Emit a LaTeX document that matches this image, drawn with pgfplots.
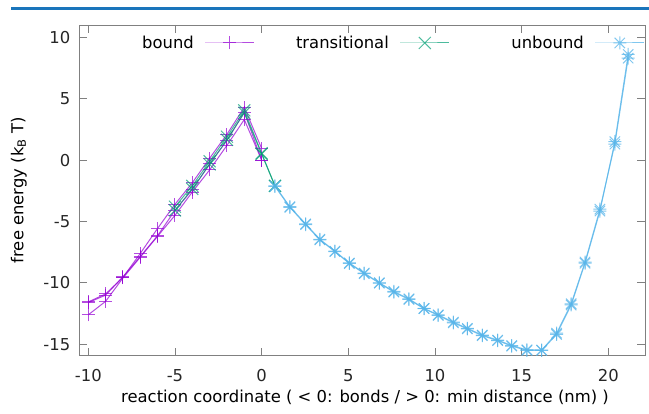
\documentclass[border=0pt]{standalone}
\usepackage{fontspec}
\setmainfont{DejaVu Sans}
\usepackage{pgfplots}
\pgfplotsset{compat=1.18}
\definecolor{cpurple}{HTML}{9400D3}
\definecolor{cgreen}{HTML}{009E73}
\definecolor{cblue}{HTML}{56B4E9}
\definecolor{topbar}{HTML}{1A75BB}
\pgfdeclareplotmark{gplus}{%
  \pgfpathmoveto{\pgfqpoint{-\pgfplotmarksize}{0pt}}\pgfpathlineto{\pgfqpoint{\pgfplotmarksize}{0pt}}%
  \pgfpathmoveto{\pgfqpoint{0pt}{-\pgfplotmarksize}}\pgfpathlineto{\pgfqpoint{0pt}{\pgfplotmarksize}}%
  \pgfusepathqstroke}
\pgfdeclareplotmark{gx}{%
  \pgfpathmoveto{\pgfqpoint{-\pgfplotmarksize}{-\pgfplotmarksize}}\pgfpathlineto{\pgfqpoint{\pgfplotmarksize}{\pgfplotmarksize}}%
  \pgfpathmoveto{\pgfqpoint{-\pgfplotmarksize}{\pgfplotmarksize}}\pgfpathlineto{\pgfqpoint{\pgfplotmarksize}{-\pgfplotmarksize}}%
  \pgfusepathqstroke}
\pgfdeclareplotmark{gstar}{%
  \pgfpathmoveto{\pgfqpoint{-\pgfplotmarksize}{0pt}}\pgfpathlineto{\pgfqpoint{\pgfplotmarksize}{0pt}}%
  \pgfpathmoveto{\pgfqpoint{0pt}{-\pgfplotmarksize}}\pgfpathlineto{\pgfqpoint{0pt}{\pgfplotmarksize}}%
  \pgfpathmoveto{\pgfqpoint{-0.8\pgfplotmarksize}{-0.8\pgfplotmarksize}}\pgfpathlineto{\pgfqpoint{0.8\pgfplotmarksize}{0.8\pgfplotmarksize}}%
  \pgfpathmoveto{\pgfqpoint{-0.8\pgfplotmarksize}{0.8\pgfplotmarksize}}\pgfpathlineto{\pgfqpoint{0.8\pgfplotmarksize}{-0.8\pgfplotmarksize}}%
  \pgfusepathqstroke}
\begin{document}
\begin{tikzpicture}
\path[use as bounding box] (0,0) rectangle (649pt,-414pt);
\fill[topbar] (11pt,-7pt) rectangle (649pt,-10pt);
\begin{axis}[
  at={(79.3pt,-355.7pt)}, anchor=south west,
  scale only axis, width=565.7pt, height=330.7pt,
  xmin=-10.52, xmax=22.12, ymin=-15.93, ymax=11.0,
  font=\fontsize{16.4}{19.5}\selectfont,
  /pgf/number format/assume math mode=true,
  xtick={-10,-5,0,5,10,15,20},
  ytick={-15,-10,-5,0,5,10},
  minor tick num=0,
  major tick length=8pt,
  tick style={gray, line width=0.8pt},
  axis line style={gray, line width=0.8pt},
  tick align=inside,
  xticklabel style={yshift=-10pt, text=black!85},
  yticklabel style={xshift=-5.5pt, text=black!85},
  xlabel={reaction coordinate ( < 0: bonds / > 0: min distance (nm) )},
  ylabel={free energy (k\textsubscript{B} T)},
  every axis x label/.style={at={(axis description cs:0.505,-0.127)}, anchor=center},
  every axis y label/.style={at={(axis description cs:-0.107,0.5)}, rotate=90, anchor=center},
  legend plot pos=right,
  legend columns=3,
  legend style={at={(axis description cs:1,0.9456)}, anchor=east, draw=none, fill=none,
    inner sep=0pt, column sep=0pt, nodes={inner sep=0pt}},
  legend image code/.code={\draw[mark repeat=2,mark phase=2] plot coordinates {(0pt,0pt) (24.5pt,0pt) (49pt,0pt)};},
  bound/.style={color=cpurple, mark=gplus, mark size=6.5pt, line width=1pt, opacity=0.7},
  trans/.style={color=cgreen, mark=gx, mark size=6pt, line width=1pt, opacity=0.7},
  unb/.style={color=cblue, mark=gstar, mark size=6.5pt, line width=1pt, opacity=0.75},
]
% bound
\addplot[bound] coordinates {(-10,-11.55) (-9,-10.9) (-8,-9.55) (-7,-7.6) (-6,-5.56) (-5,-3.6) (-4,-1.85) (-3,0.15) (-2,2.1) (-1,4.3) (0,0.95)};
\addlegendentry{\makebox[145pt][r]{bound\hspace{11pt}}}
\addplot[bound, forget plot] coordinates {(-10,-11.6) (-9,-11.0) (-8,-9.5) (-7,-7.85) (-6,-6.15) (-5,-4.1) (-4,-2.4) (-3,-0.3) (-2,1.6) (-1,3.9) (0,0.0)};
\addplot[bound, forget plot] coordinates {(-10,-12.6) (-9,-11.5) (-8,-9.6) (-7,-7.9) (-6,-6.2) (-5,-4.5) (-4,-2.6) (-3,-0.8) (-2,1.2) (-1,3.3) (0,0.0)};
% transitional
\addplot[trans] coordinates {(-5,-3.8) (-4,-2.1) (-3,-0.1) (-2,1.9) (-1,4.05) (0,0.55) (0.77,-2.1)};
\addlegendentry{\makebox[145pt][r]{transitional\hspace{11pt}}}
\addplot[trans, forget plot] coordinates {(-5,-4.1) (-4,-2.35) (-3,-0.35) (-2,1.65) (-1,3.85) (0,0.5) (0.77,-2.1)};
% unbound
\addplot[unb] coordinates {(0.77,-2.1) (1.63,-3.8) (2.54,-5.2) (3.36,-6.45) (4.23,-7.42) (5.06,-8.38) (5.92,-9.2) (6.79,-9.99) (7.63,-10.7) (8.5,-11.3) (9.37,-12.08) (10.19,-12.6) (11.06,-13.2) (11.87,-13.7) (12.73,-14.25) (13.62,-14.66) (14.43,-15.1) (15.31,-15.45) (16.16,-15.47) (17.02,-14.1) (17.86,-11.7) (18.66,-8.3) (19.52,-4.0) (20.38,1.3) (21.15,8.3)};
\addlegendentry{\makebox[145pt][r]{unbound\hspace{11pt}}}
\addplot[unb, forget plot] coordinates {(0.77,-2.15) (1.63,-3.85) (2.54,-5.25) (3.36,-6.5) (4.23,-7.45) (5.06,-8.42) (5.92,-9.25) (6.79,-10.02) (7.63,-10.75) (8.5,-11.35) (9.37,-12.1) (10.19,-12.65) (11.06,-13.25) (11.87,-13.75) (12.73,-14.3) (13.62,-14.7) (14.43,-15.15) (15.31,-15.5) (16.16,-15.5) (17.02,-14.2) (17.86,-11.8) (18.66,-8.4) (19.52,-4.15) (20.38,1.5) (21.15,8.6)};
\end{axis}
\end{tikzpicture}
\end{document}
